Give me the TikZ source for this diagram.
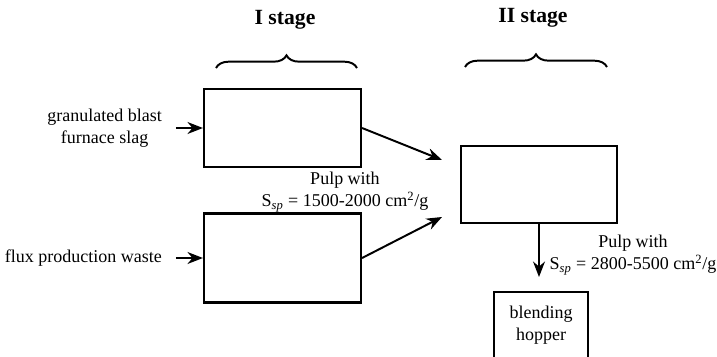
\documentclass[tikz,border=0pt]{standalone}
\usepackage{fontspec}
\setmainfont{Liberation Serif}
\usetikzlibrary{arrows.meta, positioning, decorations.pathreplacing, calc}

\begin{document}
\begin{tikzpicture}[x=0.025cm, y=-0.025cm,
    millbox/.style={draw, line width=1.5pt},
    flow/.style={-{Stealth[length=11pt, width=8.5pt]}, line width=1.4pt},
    stagebrace/.style={decorate, decoration={brace, amplitude=9pt}, line width=1.4pt},
    txt/.style={font=\fontsize{12.8}{16}\selectfont, align=center, inner sep=2pt},
    stagetxt/.style={font=\fontsize{15.4}{18}\selectfont\bfseries}]
    \useasboundingbox (0,0) rectangle (717,356);

    % stage titles and braces
    \node[stagetxt] (st1) at (285,20) {I stage};
    \node[stagetxt] (st2) at (533,18) {II stage};
    \draw[stagebrace] (216,68) -- (357,68);
    \draw[stagebrace] (465,67) -- (607,67);

    % I stage mills
    \node[millbox, minimum width=3.925cm, minimum height=1.95cm] (mill1) at (282.5,128) {};
    \node[millbox, minimum width=3.925cm, minimum height=2.225cm] (mill2) at (282.5,258) {};

    % II stage mill
    \node[millbox, minimum width=3.9cm, minimum height=1.925cm] (mill3) at (539,184.5) {};

    % blending hopper
    \node[txt, millbox, minimum width=2.35cm, minimum height=1.65cm, anchor=north] (hopper) at (541,291) {blending\\hopper};

    % feed materials
    \node[txt, left=0.95cm of mill1] (slag) {granulated blast\\furnace slag};
    \node[txt, left=0.95cm of mill2] (flux) {flux production waste};
    \draw[flow, shorten <=7.8pt] (slag.east) -- (mill1.west);
    \draw[flow, shorten <=7.8pt] (flux.east) -- (mill2.west);

    % pulp to II stage
    \coordinate (in1) at (442,160);
    \coordinate (in2) at (442,217);
    \draw[flow] (mill1.east) -- (in1);
    \draw[flow] (mill2.east) -- (in2);
    \node[txt] (pulp1) at (345,192) {Pulp with\\S\textsubscript{\textit{sp}} = 1500-2000 cm\textsuperscript{2}/g};

    % pulp to hopper
    \draw[flow, shorten >=0.35cm] (mill3.south) -- (mill3.south |- hopper.north);
    \node[txt] (pulp2) at (633,255) {Pulp with\\S\textsubscript{\textit{sp}} = 2800-5500 cm\textsuperscript{2}/g};
\end{tikzpicture}
\end{document}
